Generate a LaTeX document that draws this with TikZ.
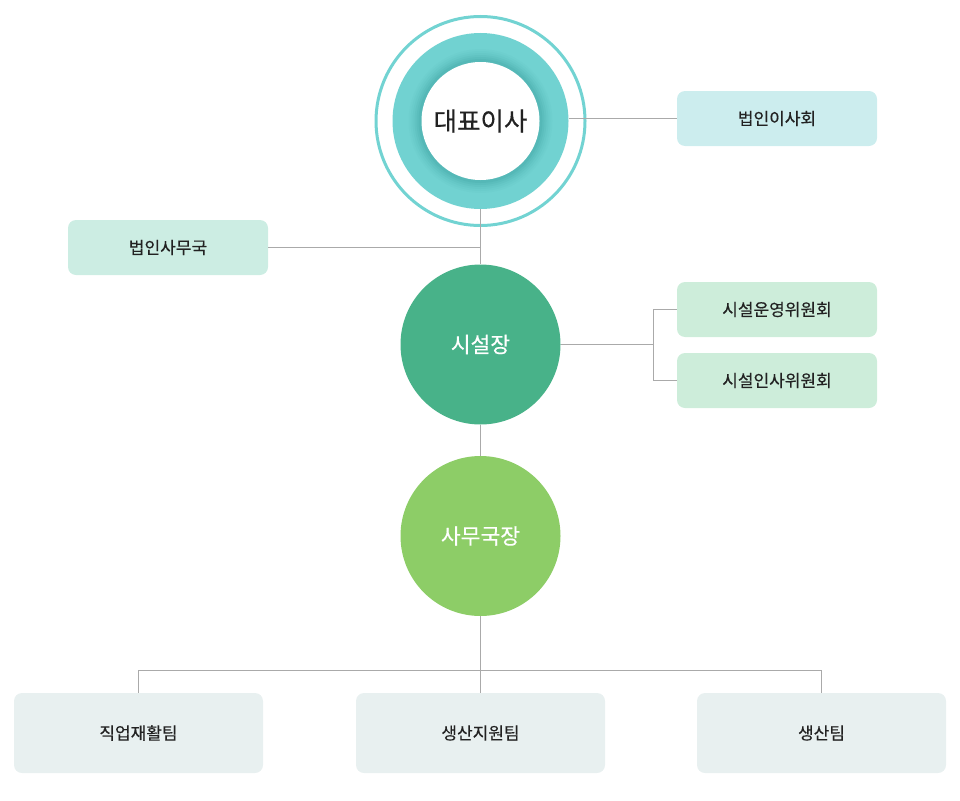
\documentclass[tikz,border=0pt]{standalone}
\usepackage{fontspec}
\setmainfont{Noto Sans CJK KR}
\newfontfamily\medkr[FakeBold=0.35]{Noto Sans CJK KR}
\definecolor{ringc}{HTML}{72D3D2}
\definecolor{tealc}{HTML}{71D2D1}
\definecolor{shadowc}{HTML}{3A9E9D}
\definecolor{boardc}{HTML}{CCEDEE}
\definecolor{officec}{HTML}{CCEDE3}
\definecolor{commc}{HTML}{CDEDDA}
\definecolor{teamc}{HTML}{E8F0F0}
\definecolor{dirc}{HTML}{48B289}
\definecolor{secc}{HTML}{8DCD67}
\definecolor{linec}{HTML}{AAAAAA}
\definecolor{textc}{HTML}{222222}
\begin{document}
\begin{tikzpicture}[x=1pt,y=-1pt,
  conn/.style={draw=linec,line width=1pt},
  sidebox/.style={rounded corners=8pt,minimum width=200pt,minimum height=55pt,inner sep=0pt,text=textc,font=\medkr\fontsize{17}{17}\selectfont},
  teambox/.style={rounded corners=8pt,fill=teamc,minimum width=249pt,minimum height=80pt,inner sep=0pt,text=textc,font=\medkr\fontsize{17}{17}\selectfont},
  bigcirc/.style={circle,minimum size=160pt,inner sep=0pt,text=white,font=\medkr\fontsize{21.5}{21.5}\selectfont}]
\useasboundingbox (0,0) rectangle (960,800);
% top circle
\node[circle,draw=ringc,line width=3pt,minimum size=209pt,inner sep=0pt] (ring) at (480.5,121) {};
\node[circle,fill=tealc,minimum size=176pt,inner sep=0pt] (teal) at (480.5,121) {};
\foreach \r/\o in {72/0.04,70/0.06,68/0.08,66/0.10,64/0.13,62/0.17}
  \fill[shadowc,opacity=\o] (480.5,121) circle (\r);
\node[circle,fill=white,minimum size=118pt,inner sep=0pt,text=textc,font=\medkr\fontsize{25.5}{25.5}\selectfont] (ceo) at (480.5,121) {대표이사};
% side boxes
\node[sidebox,fill=boardc] (board) at (777,118.5) {법인이사회};
\node[sidebox,fill=officec] (office) at (168,247.5) {법인사무국};
\node[sidebox,fill=commc] (comm1) at (777,309.5) {시설운영위원회};
\node[sidebox,fill=commc] (comm2) at (777,380.5) {시설인사위원회};
% main circles
\node[bigcirc,fill=dirc] (dir) at (480.5,344.5) {시설장};
\node[bigcirc,fill=secc] (sec) at (480.5,536) {사무국장};
% teams
\node[teambox] (t1) at (138.5,733) {직업재활팀};
\node[teambox] (t2) at (480.5,733) {생산지원팀};
\node[teambox] (t3) at (821.5,733) {생산팀};
% coordinates
\coordinate (j1) at (480.5,247.5);
\coordinate (j2) at (653,344.5);
\coordinate (j3) at (480.5,670);
% connectors
\draw[conn] (teal.east |- 0,118.5) -- (board.west);
\draw[conn] (teal.south) -- (dir.north);
\draw[conn] (office.east) -- (j1);
\draw[conn] (dir.east) -- (j2);
\draw[conn] (j2) |- (comm1.west);
\draw[conn] (j2) |- (comm2.west);
\draw[conn] (dir.south) -- (sec.north);
\draw[conn] (sec.south) -- (t2.north);
\draw[conn] (t1.north) |- (j3) -| (t3.north);
\end{tikzpicture}
\end{document}
